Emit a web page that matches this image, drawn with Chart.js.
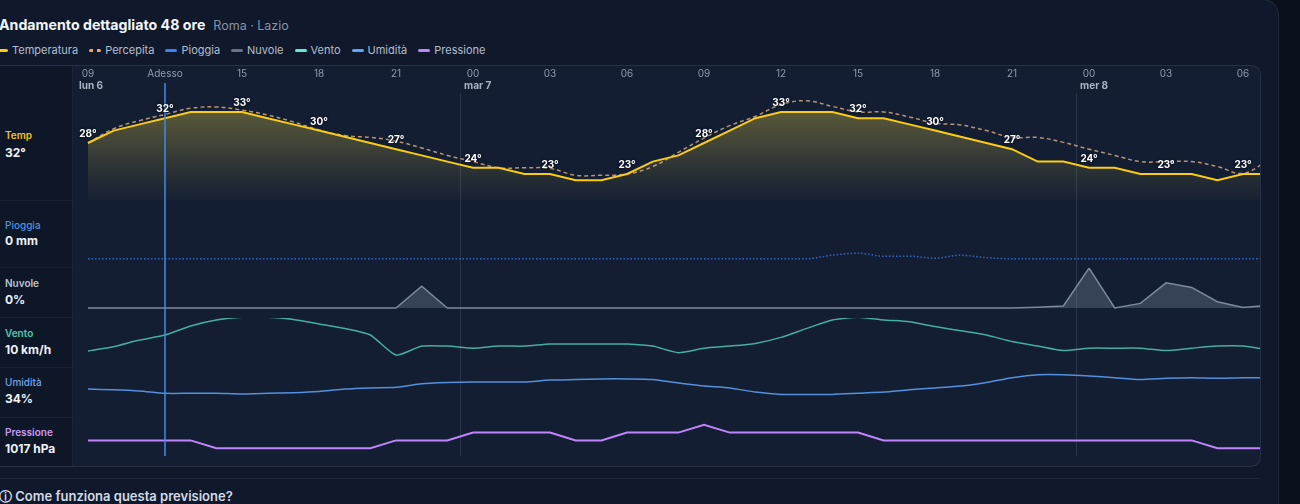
<!DOCTYPE html>
<html lang="it">
<head>
<meta charset="utf-8">
<title>Andamento dettagliato 48 ore</title>
<script src="https://cdn.jsdelivr.net/npm/chart.js@4/dist/chart.umd.min.js"></script>
<style>
  html, body { margin: 0; padding: 0; }
  body {
    width: 1300px; height: 504px; overflow: hidden; position: relative;
    background: #090f1b;
    font-family: Inter, "Noto Sans", sans-serif;
  }
  .card {
    position: absolute; left: -40px; top: -1px; width: 1319px; height: 560px;
    box-sizing: border-box; background: #0f192b;
    border: 1px solid rgba(148,163,184,0.12); border-radius: 16px;
  }
  .title {
    position: absolute; left: -1px; top: 16px; line-height: 18px;
    font-size: 14.2px; font-weight: 700; color: #f1f5f9; white-space: nowrap;
  }
  .title span { font-size: 12.5px; font-weight: 400; color: #8794a8; margin-left: 8px; }
  #legenda {
    position: absolute; left: -4px; top: 43px; display: flex; gap: 11px;
    font-size: 11px; line-height: 14px; color: #b3becd; white-space: nowrap;
  }
  .leg-item { display: flex; align-items: center; gap: 4px; }
  .sw { display: inline-block; width: 12px; height: 3px; border-radius: 2px; }
  .box {
    position: absolute; left: -8px; top: 65px; width: 1269px; height: 402px;
    box-sizing: border-box; border: 1px solid rgba(148,163,184,0.15); border-radius: 10px;
    background: #131e33; overflow: hidden;
  }
  .pannello {
    position: absolute; left: 0; top: 0; width: 80px; height: 400px; box-sizing: border-box;
    background: #0e1727; border-right: 1px solid rgba(148,163,184,0.1);
  }
  .sep { position: absolute; left: 0; width: 80px; height: 1px; background: rgba(148,163,184,0.08); }
  .lab { position: absolute; left: 12px; font-size: 10px; line-height: 12px; font-weight: 600; white-space: nowrap; }
  .val { position: absolute; left: 12px; font-size: 12px; line-height: 14px; font-weight: 700; color: #eef2f7; white-space: nowrap; }
  .plot { position: absolute; left: 80px; top: 0; width: 1187px; height: 400px; }
  .footer-line { position: absolute; left: 0; top: 478px; width: 1260px; height: 1px; background: rgba(148,163,184,0.1); }
  .footer {
    position: absolute; left: -1px; top: 488px; font-size: 13px; line-height: 16px;
    font-weight: 600; color: #d3dae5; white-space: nowrap;
  }
</style>
</head>
<body>
<div class="card"></div>
<div class="title">Andamento dettagliato 48 ore<span>Roma · Lazio</span></div>
<div id="legenda"></div>

<div class="box">
  <div class="pannello">
    <div class="sep" style="top:134px"></div>
    <div class="sep" style="top:201px"></div>
    <div class="sep" style="top:251px"></div>
    <div class="sep" style="top:301px"></div>
    <div class="sep" style="top:351px"></div>
    <div class="lab" style="top:63px;color:#f4c21c">Temp</div>
    <div class="val" id="vTemp" style="top:80px"></div>
    <div class="lab" style="top:153px;color:#4c92de;font-weight:500">Pioggia</div>
    <div class="val" id="vPioggia" style="top:168px"></div>
    <div class="lab" style="top:211px;color:#bcc5d2">Nuvole</div>
    <div class="val" id="vNuvole" style="top:227px"></div>
    <div class="lab" style="top:261px;color:#52c9ab">Vento</div>
    <div class="val" id="vVento" style="top:277px"></div>
    <div class="lab" style="top:310px;color:#6ea6e6;font-weight:500">Umidità</div>
    <div class="val" id="vUmidita" style="top:326px"></div>
    <div class="lab" style="top:360px;color:#c99cf4">Pressione</div>
    <div class="val" id="vPressione" style="top:376px"></div>
  </div>
  <div class="plot"><canvas id="grafico"></canvas></div>
</div>

<div class="footer-line"></div>
<div class="footer">ⓘ Come funziona questa previsione?</div>

<script>
// Un punto ogni ora, indice 0 = lun 6 ore 09
const oreLabels = [
  '09','10','11','12','13','14','15','16','17','18','19','20','21','22','23',
  '00','01','02','03','04','05','06','07','08','09','10','11','12','13','14','15','16','17','18','19','20','21','22','23',
  '00','01','02','03','04','05','06','07'
];

// Etichette asse orario (ogni 3 ore) e giorni
const tickOre = [0, 3, 6, 9, 12, 15, 18, 21, 24, 27, 30, 33, 36, 39, 42, 45];
const tickLabels = ['09', 'Adesso', '15', '18', '21', '00', '03', '06', '09', '12', '15', '18', '21', '00', '03', '06'];
const giorniIdx = [0, 15, 39];
const giorniLabel = ['lun 6', 'mar 7', 'mer 8'];
const adessoIdx = 3;

// Serie (°C, °C, %, %, km/h, %, hPa)
const temperatura = [28, 30, 31, 32, 33, 33, 33, 32, 31, 30, 29, 28, 27, 26, 25, 24, 24, 23, 23, 22, 22, 23, 25, 26,
  28, 30, 32, 33, 33, 33, 32, 32, 31, 30, 29, 28, 27, 25, 25, 24, 24, 23, 23, 23, 22, 23, 23];
const percepita = [28, 30.3, 31.6, 32.6, 33.6, 33.8, 33.3, 32.5, 31.4, 30.1, 29.2, 28.9, 28.3, 27.2, 26, 25, 24, 24, 23.9, 22.8, 22.8, 23, 24.2, 26.5,
  28.8, 30.8, 32.3, 34.2, 34.8, 33.9, 33, 33, 32.2, 31.2, 30.9, 30, 28.9, 28.9, 28.1, 27, 26, 25, 25, 25, 24.2, 23.1, 25.3];
const pioggia = [0, 0, 0, 0, 0, 0, 0, 0, 0, 0, 0, 0, 0, 0, 0, 0, 0, 0, 0, 0, 0, 0, 0, 0,
  0, 0, 0, 0, 0, 7, 11, 5, 5, 1, 7, 2, 0, 0, 0, 0, 0, 0, 0, 0, 0, 0, 0];
const nuvole = [0, 0, 0, 0, 0, 0, 0, 0, 0, 0, 0, 0, 0, 52, 0, 0, 0, 0, 0, 0, 0, 0, 0, 0,
  0, 0, 0, 0, 0, 0, 0, 0, 0, 0, 0, 0, 0, 2, 5, 95, 0, 11, 60, 49, 15, 1, 7];
const vento = [4.7, 6.1, 8.3, 10, 13, 15, 15.9, 15.9, 15.2, 13.7, 12.2, 10, 3.3, 6.3, 6.3, 5.6, 6.3, 6.3, 7, 7, 7, 7, 6.3, 4.1,
  5.6, 6.3, 7.2, 9.2, 12.2, 15, 15.9, 15, 14.4, 12.8, 11.4, 10, 7.8, 6.3, 4.8, 5.6, 5.6, 5.6, 4.8, 5.6, 6.3, 6.3, 5];
const umidita = [41, 40, 38, 34, 34, 34, 33, 34, 35, 37, 41, 43, 44, 50, 52, 53, 53, 53, 56, 57, 58, 58, 57, 51,
  46, 43, 36, 32, 32, 32, 34, 36, 40, 43, 46, 52, 60, 65, 65, 63, 60, 57, 59, 60, 59, 60, 60];
const pressione = [1017, 1017, 1017, 1017, 1017, 1016, 1016, 1016, 1016, 1016, 1016, 1016, 1017, 1017, 1017,
  1018, 1018, 1018, 1018, 1017, 1017, 1018, 1018, 1018, 1019, 1018, 1018, 1018, 1018, 1018, 1018,
  1017, 1017, 1017, 1017, 1017, 1017, 1017, 1017, 1017, 1017, 1017, 1017, 1017, 1016, 1016, 1016];

// Trasforma una serie in punti {x, y}
const punti = arr => arr.map((v, i) => ({ x: i, y: v }));

// Valori "adesso" nel pannello a sinistra
document.getElementById('vTemp').textContent = temperatura[adessoIdx] + '°';
document.getElementById('vPioggia').textContent = '0 mm';
document.getElementById('vNuvole').textContent = nuvole[adessoIdx] + '%';
document.getElementById('vVento').textContent = vento[adessoIdx] + ' km/h';
document.getElementById('vUmidita').textContent = umidita[adessoIdx] + '%';
document.getElementById('vPressione').textContent = pressione[adessoIdx] + ' hPa';

// Linee verticali (mezzanotte, adesso) ed etichette temperatura
const overlayPlugin = {
  id: 'overlay',
  beforeDatasetsDraw(chart) {
    const { ctx, chartArea, scales: { x } } = chart;
    ctx.save();
    ctx.strokeStyle = 'rgba(148,163,184,0.18)';
    ctx.lineWidth = 1;
    giorniIdx.slice(1).forEach(idx => {
      const px = Math.round(x.getPixelForValue(idx - 0.5)) + 0.5;
      ctx.beginPath();
      ctx.moveTo(px, chartArea.top);
      ctx.lineTo(px, chartArea.bottom);
      ctx.stroke();
    });
    ctx.restore();
  },
  afterDatasetsDraw(chart) {
    const { ctx, chartArea, scales: { x } } = chart;
    ctx.save();
    const ax = x.getPixelForValue(adessoIdx);
    ctx.strokeStyle = '#3f8cec';
    ctx.lineWidth = 1.5;
    ctx.beginPath();
    ctx.moveTo(ax, chartArea.top - 10);
    ctx.lineTo(ax, chartArea.bottom);
    ctx.stroke();

    const meta = chart.getDatasetMeta(0);
    ctx.font = 'bold 10px Inter, sans-serif';
    ctx.textAlign = 'center';
    ctx.textBaseline = 'middle';
    ctx.fillStyle = '#ffffff';
    ctx.shadowColor = 'rgba(4,8,16,0.95)';
    ctx.shadowBlur = 3;
    tickOre.forEach(i => {
      const p = meta.data[i];
      ctx.fillText(temperatura[i] + '°', p.x, p.y - 9);
    });

    ctx.shadowBlur = 0;
    ctx.fillStyle = '#a9b4c4';
    ctx.textAlign = 'left';
    giorniIdx.forEach((idx, k) => {
      ctx.fillText(giorniLabel[k], x.getPixelForValue(idx) - 9, 20);
    });
    ctx.restore();
  }
};

// Asse y nascosto, una riga per ogni grandezza
function rigaY(weight, stackWeight, min, max) {
  return { type: 'linear', display: false, position: 'left', stack: 'righe', weight: weight, stackWeight: stackWeight, min: min, max: max };
}

const ctxGrafico = document.getElementById('grafico').getContext('2d');
const grafico = new Chart(ctxGrafico, {
  type: 'line',
  data: {
    labels: oreLabels,
    datasets: [
      {
        label: 'Temperatura', data: punti(temperatura), yAxisID: 'yTemp',
        borderColor: '#facc15', borderWidth: 2, tension: 0, pointRadius: 0,
        fill: 'start',
        backgroundColor: (c) => {
          const { ctx, chartArea, scales } = c.chart;
          if (!chartArea) return 'rgba(253,224,71,0.2)';
          const g = ctx.createLinearGradient(0, scales.yTemp.getPixelForValue(33), 0, scales.yTemp.bottom);
          g.addColorStop(0, 'rgba(253,224,71,0.3)');
          g.addColorStop(0.75, 'rgba(253,224,71,0.08)');
          g.addColorStop(1, 'rgba(253,224,71,0.02)');
          return g;
        }
      },
      {
        label: 'Percepita', data: punti(percepita), yAxisID: 'yTemp',
        borderColor: 'rgba(252,196,140,0.7)', legendColor: '#f5a65b', borderWidth: 1.5, borderDash: [4, 3],
        tension: 0.4, pointRadius: 0, fill: false
      },
      {
        label: 'Pioggia', data: punti(pioggia), yAxisID: 'yPioggia',
        borderColor: 'rgba(59,130,246,0.75)', legendColor: '#3b82f6', borderWidth: 1.5, borderDash: [1.5, 2],
        cubicInterpolationMode: 'monotone', pointRadius: 0, fill: false
      },
      {
        label: 'Nuvole', data: punti(nuvole), yAxisID: 'yNuvole',
        borderColor: '#7d899c', legendColor: '#64748b', borderWidth: 1.5, tension: 0, pointRadius: 0,
        fill: 'origin', backgroundColor: 'rgba(148,163,184,0.28)'
      },
      {
        label: 'Vento', data: punti(vento), yAxisID: 'yVento',
        borderColor: 'rgba(94,234,212,0.7)', legendColor: '#5eead4', borderWidth: 1.5, tension: 0.2, pointRadius: 0, fill: false
      },
      {
        label: 'Umidità', data: punti(umidita), yAxisID: 'yUmidita',
        borderColor: 'rgba(96,165,250,0.85)', legendColor: '#60a5fa', borderWidth: 1.5, tension: 0.2, pointRadius: 0, fill: false
      },
      {
        label: 'Pressione', data: punti(pressione), yAxisID: 'yPressione',
        borderColor: '#c084fc', borderWidth: 2, tension: 0, pointRadius: 0, fill: false
      }
    ]
  },
  options: {
    responsive: true,
    maintainAspectRatio: false,
    animation: false,
    events: [],
    layout: { padding: { top: 0, left: 0, right: 0, bottom: 10 } },
    plugins: {
      legend: { display: false },
      tooltip: { enabled: false },
      filler: { drawTime: 'beforeDatasetsDraw' }
    },
    scales: {
      x: {
        type: 'linear', position: 'top', min: -0.584, max: 45.66,
        grid: { display: false, drawTicks: false },
        border: { display: false },
        ticks: {
          color: '#8f9bae', font: { size: 10, family: 'Inter' }, padding: 13,
          autoSkip: false, maxRotation: 0,
          callback: (v) => {
            const i = tickOre.indexOf(v);
            return i >= 0 ? tickLabels[i] : '';
          }
        },
        afterBuildTicks: (s) => { s.ticks = tickOre.map(v => ({ value: v })); },
        afterFit: (s) => { s.height = 27; s.paddingLeft = 0; s.paddingRight = 0; }
      },
      yTemp: rigaY(6, 107, 18.81, 36.06),
      yPioggia: rigaY(5, 68, -18.6, 117.4),
      yNuvole: rigaY(4, 50, -23.81, 95.24),
      yVento: rigaY(3, 49, -0.667, 15.667),
      yUmidita: rigaY(2, 49, -3.83, 77.83),
      yPressione: rigaY(1, 40, 1015.0, 1020.13)
    }
  },
  plugins: [overlayPlugin]
});

// Legenda HTML costruita dai dataset
const legenda = document.getElementById('legenda');
grafico.data.datasets.forEach(ds => {
  const item = document.createElement('span');
  item.className = 'leg-item';
  const sw = document.createElement('i');
  sw.className = 'sw';
  const col = ds.legendColor || ds.borderColor;
  if (ds.label === 'Percepita') {
    sw.style.background = `linear-gradient(to right, ${col} 0 4px, transparent 4px 8px, ${col} 8px 12px)`;
  } else {
    sw.style.background = col;
  }
  const txt = document.createElement('span');
  txt.textContent = ds.label;
  item.appendChild(sw);
  item.appendChild(txt);
  legenda.appendChild(item);
});
</script>
</body>
</html>
